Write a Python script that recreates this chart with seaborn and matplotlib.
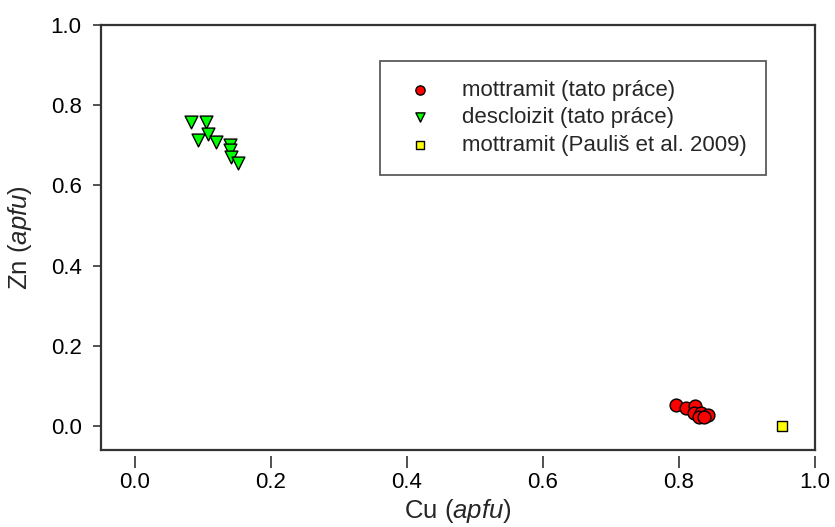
import matplotlib
matplotlib.use("Agg")
import matplotlib.pyplot as plt
import seaborn as sns
import pandas as pd

# Data
mott_cu = [0.796, 0.811, 0.823, 0.822, 0.833, 0.829, 0.843, 0.837]
mott_zn = [0.053, 0.045, 0.049, 0.032, 0.032, 0.022, 0.028, 0.022]
desc_cu = [0.082, 0.104, 0.108, 0.092, 0.119, 0.139, 0.139, 0.141, 0.151]
desc_zn = [0.759, 0.759, 0.729, 0.714, 0.707, 0.700, 0.687, 0.671, 0.657]
paul_cu = [0.952]
paul_zn = [0.001]
labels = ["mottramit (tato práce)", "descloizit (tato práce)", "mottramit (Pauliš et al. 2009)"]
x_ticks = [0.0, 0.2, 0.4, 0.6, 0.8, 1.0]
y_ticks = [0.0, 0.2, 0.4, 0.6, 0.8, 1.0]

sns.set_style("white")
plt.rcParams['font.family'] = ['Liberation Sans', 'DejaVu Sans']
plt.rcParams['mathtext.fontset'] = 'custom'
plt.rcParams['mathtext.it'] = 'Liberation Sans:italic'
plt.rcParams['mathtext.rm'] = 'Liberation Sans'

fig = plt.figure(figsize=(8.35, 5.27), dpi=100)
ax = fig.add_axes([101/835, 1-450/527, 714/835, 425/527])

groups = [
    (mott_cu, mott_zn, labels[0], "o", "#ff0000", 85),
    (desc_cu, desc_zn, labels[1], "v", "#00ff00", 85),
    (paul_cu, paul_zn, labels[2], "s", "#ffff00", 60),
]
for xs, ys, lab, m, c, s in groups:
    df = pd.DataFrame({"Cu": xs, "Zn": ys})
    sns.scatterplot(data=df, x="Cu", y="Zn", marker=m, color=c, s=s,
                    edgecolor="black", linewidth=1.0, ax=ax, label=lab, zorder=3)

spine_col = "#333333"
for sp in ax.spines.values():
    sp.set_color(spine_col)
    sp.set_linewidth(1.6)
ax.spines['bottom'].set_position(('outward', 4))
ax.spines['bottom'].set_visible(False)
ax.plot([0, 1], [0, 0], transform=ax.transAxes, color=spine_col, lw=1.6,
        clip_on=False, solid_capstyle='projecting', zorder=5)

ax.set_xlim(-0.05, 1.0)
ax.set_ylim(-0.06, 1.0)
ax.set_xticks(x_ticks)
ax.set_yticks(y_ticks)
ax.set_xticklabels([f"{v:.1f}" for v in x_ticks])
ax.set_yticklabels([f"{v:.1f}" for v in y_ticks])

ax.tick_params(axis='x', direction='out', length=8.5, width=1.2, color=spine_col,
               bottom=True, pad=3, labelcolor="black", labelsize=16)
ax.tick_params(axis='y', direction='out', length=6, width=1.2, color=spine_col,
               left=True, pad=8, labelcolor="black", labelsize=16)

ax.set_xlabel("Cu ($\\it{apfu}$)", fontsize=18.5, labelpad=3)
ax.set_ylabel("Zn ($\\it{apfu}$)", fontsize=18.5, labelpad=12)

leg = ax.legend(loc="upper left", bbox_to_anchor=((380-101)/714, (450-61)/425),
                borderaxespad=0, fontsize=16, frameon=True, fancybox=False,
                markerscale=0.72, handletextpad=0.98, borderpad=0.85,
                labelspacing=0.29, handlelength=1.87)
leg.get_frame().set_edgecolor(spine_col)
leg.get_frame().set_linewidth(1.3)

fig.savefig("out.png", dpi=100)
